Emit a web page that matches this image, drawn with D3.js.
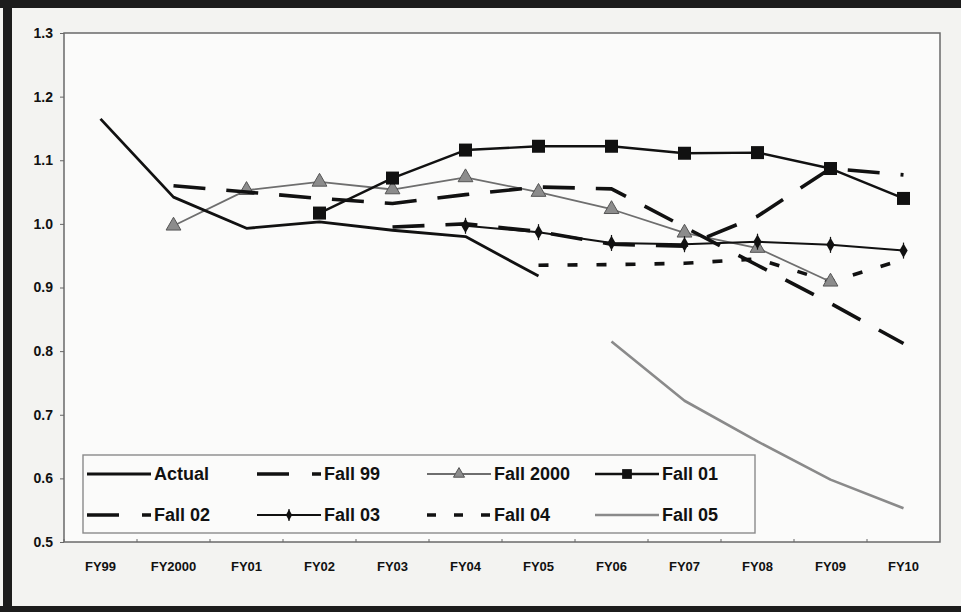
<!DOCTYPE html>
<html><head><meta charset="utf-8">
<script src="https://cdn.jsdelivr.net/npm/d3@7"></script>
<style>
html,body{margin:0;padding:0;background:#f3f3f1;}
svg{display:block;}
text{font-family:"Liberation Sans",Arial,sans-serif;font-weight:bold;fill:#111;}
</style></head>
<body>
<svg id="chart" width="961" height="612"></svg>
<script>
const categories = ["FY99","FY2000","FY01","FY02","FY03","FY04","FY05","FY06","FY07","FY08","FY09","FY10"];
const actual   = [1.165,1.042,0.993,1.003,0.990,0.980,0.918,null,null,null,null,null];
const fall99   = [null,1.060,1.050,1.040,1.032,1.046,1.058,1.055,0.995,0.935,0.875,0.812];
const fall2000 = [null,0.997,1.053,1.066,1.054,1.073,1.050,1.023,0.986,0.962,0.909,null];
const fall01   = [null,null,null,1.017,1.072,1.116,1.122,1.122,1.111,1.112,1.087,1.040];
const fall02   = [null,null,null,null,0.995,1.000,0.988,0.968,0.965,1.012,1.087,1.077];
const fall03   = [null,null,null,null,null,0.997,0.987,0.970,0.968,0.972,0.967,0.958];
const fall04   = [null,null,null,null,null,null,0.935,0.936,0.938,0.945,0.909,0.944];
const fall05   = [null,null,null,null,null,null,null,0.815,0.722,0.658,0.598,0.553];
const yTicks   = [0.5,0.6,0.7,0.8,0.9,1.0,1.1,1.2,1.3];
const seriesNames = ["Actual","Fall 99","Fall 2000","Fall 01","Fall 02","Fall 03","Fall 04","Fall 05"];

const styles = {
  "Actual":   {color:"#111", width:2.8, dash:null, marker:null},
  "Fall 99":  {color:"#111", width:3.6, dash:"32,21", marker:null},
  "Fall 2000":{color:"#6e6e6e", width:1.8, dash:null, marker:"triangle"},
  "Fall 01":  {color:"#111", width:2.4, dash:null, marker:"square"},
  "Fall 02":  {color:"#111", width:3.6, dash:"32,21", marker:null},
  "Fall 03":  {color:"#111", width:2.0, dash:null, marker:"diamond"},
  "Fall 04":  {color:"#111", width:3.6, dash:"10,19", marker:null},
  "Fall 05":  {color:"#8a8a8a", width:2.6, dash:null, marker:null}
};
const dataMap = {"Actual":actual,"Fall 99":fall99,"Fall 2000":fall2000,"Fall 01":fall01,
  "Fall 02":fall02,"Fall 03":fall03,"Fall 04":fall04,"Fall 05":fall05};

const svg = d3.select("#chart");
const M = {left:64, right:940, top:33, bottom:542};

// scan frame
svg.append("rect").attr("x",0).attr("y",0).attr("width",961).attr("height",612).attr("fill","#f3f3f1");
svg.append("rect").attr("x",0).attr("y",0).attr("width",961).attr("height",8).attr("fill","#1c1c1c");
svg.append("rect").attr("x",0).attr("y",606).attr("width",961).attr("height",6).attr("fill","#1c1c1c");
svg.append("rect").attr("x",3).attr("y",0).attr("width",9).attr("height",612).attr("fill","#1c1c1c");

const x = d3.scaleBand().domain(categories).range([M.left, M.right]);
const cx = c => x(c) + x.bandwidth()/2;
const y = d3.scaleLinear().domain([0.5,1.3]).range([M.bottom, M.top]);

// plot area
svg.append("rect").attr("x",M.left).attr("y",M.top).attr("width",M.right-M.left).attr("height",M.bottom-M.top)
  .attr("fill","#fbfbfa").attr("stroke","#6a6a6a").attr("stroke-width",1.5);

// axes
const yAxis = d3.axisLeft(y).tickValues(yTicks).tickFormat(d3.format(".1f")).tickSize(4).tickPadding(7);
const gy = svg.append("g").attr("transform",`translate(${M.left},0)`).call(yAxis);
gy.select(".domain").remove();
gy.selectAll("line").attr("stroke","#666");
gy.selectAll("text").style("font-size","14px").style("font-family","'Liberation Sans',Arial,sans-serif").style("font-weight","bold").attr("fill","#111");

const xAxis = d3.axisBottom(x).tickSize(0).tickPadding(20);
const gx = svg.append("g").attr("transform",`translate(0,${M.bottom})`).call(xAxis);
gx.select(".domain").remove();
gx.selectAll("text").style("font-size","13px").style("font-family","'Liberation Sans',Arial,sans-serif").style("font-weight","bold").attr("fill","#111");
// small tick marks on category boundaries
svg.append("g").selectAll("line").data(categories).join("line")
  .attr("x1",d=>x(d)).attr("x2",d=>x(d)).attr("y1",M.bottom).attr("y2",M.bottom-3)
  .attr("stroke","#666").attr("stroke-width",1);

const line = d3.line().defined(d=>d.v!=null).x(d=>cx(d.c)).y(d=>y(d.v));

function drawMarker(g, type, px, py, color, scale=1){
  if(type==="square"){
    g.append("rect").attr("x",px-6.5*scale).attr("y",py-6.5*scale).attr("width",13*scale).attr("height",13*scale).attr("fill","#111");
  } else if(type==="triangle"){
    g.append("path").attr("d",d3.symbol().type(d3.symbolTriangle).size(95*scale*scale)()).attr("transform",`translate(${px},${py})`)
      .attr("fill","#8c8c8c").attr("stroke","#555").attr("stroke-width",1);
  } else if(type==="diamond"){
    g.append("path").attr("d",d3.symbol().type(d3.symbolDiamond).size(60*scale*scale)()).attr("transform",`translate(${px},${py})`)
      .attr("fill","#111");
    g.append("line").attr("x1",px).attr("x2",px).attr("y1",py-8*scale).attr("y2",py+8*scale).attr("stroke","#111").attr("stroke-width",1.2);
  }
}

const plot = svg.append("g");
const order = ["Fall 05","Fall 04","Fall 2000","Fall 99","Fall 02","Fall 03","Actual","Fall 01"];
order.forEach(name=>{
  const s = styles[name];
  const pts = categories.map((c,i)=>({c, v:dataMap[name][i]}));
  plot.append("path").datum(pts).attr("d",line).attr("fill","none")
    .attr("stroke",s.color).attr("stroke-width",s.width)
    .attr("stroke-dasharray",s.dash).attr("stroke-linejoin","round");
  if(s.marker){
    pts.filter(p=>p.v!=null).forEach(p=>drawMarker(plot,s.marker,cx(p.c),y(p.v),s.color));
  }
});

// legend
const L = {x:83, y:455, w:672, h:78};
svg.append("rect").attr("x",L.x).attr("y",L.y).attr("width",L.w).attr("height",L.h)
  .attr("fill","#fbfbfa").attr("stroke","#8a8a8a").attr("stroke-width",1.4);
const colX = [87,257,427,595];
const rowY = [474,515];
seriesNames.forEach((name,i)=>{
  const s = styles[name];
  const col = i%4, row = Math.floor(i/4);
  const sx = colX[col], sy = rowY[row];
  const g = svg.append("g");
  g.append("line").attr("x1",sx).attr("x2",sx+64).attr("y1",sy).attr("y2",sy)
    .attr("stroke",s.color).attr("stroke-width",s.dash? 3.4 : s.width)
    .attr("stroke-dasharray", s.dash==="32,21" ? "32,23,9,100" : (s.dash==="10,19" ? "9,18" : null));
  if(s.marker) drawMarker(g,s.marker,sx+32,sy,s.color,0.75);
  g.append("text").attr("x",sx+67).attr("y",sy).attr("dy","0.36em")
    .style("font-size","18px").text(name);
});
</script>
</body></html>
